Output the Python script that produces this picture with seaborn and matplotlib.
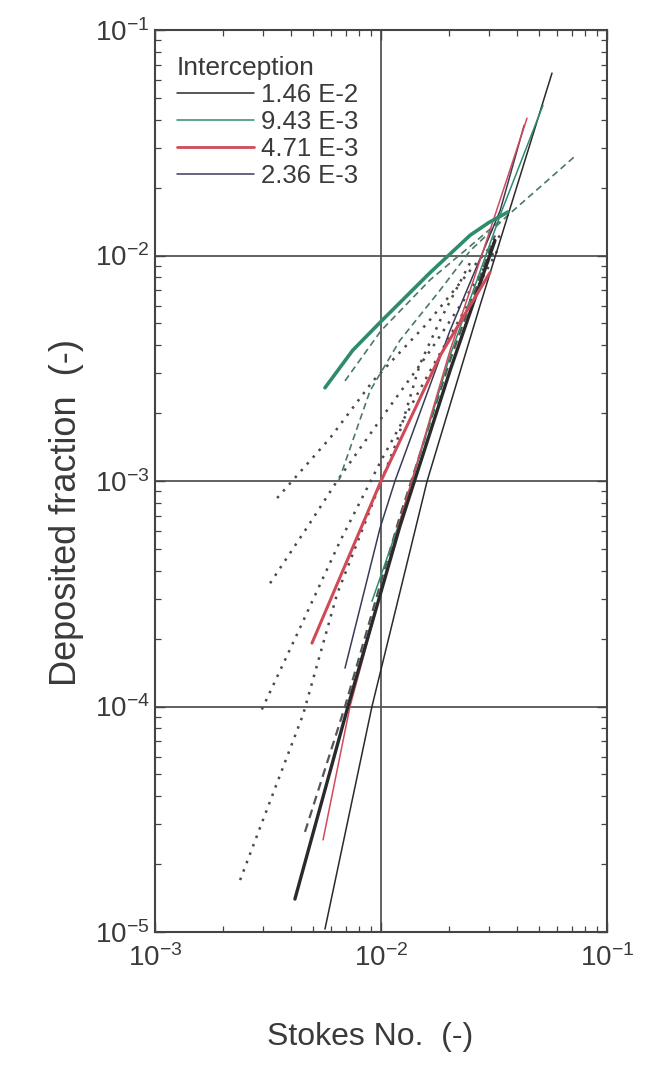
import numpy as np
import pandas as pd
import matplotlib
matplotlib.use("Agg")
import matplotlib.pyplot as plt
from matplotlib.lines import Line2D
from matplotlib.ticker import LogLocator, NullFormatter
import seaborn as sns

# ---------------- data ----------------
green_thick_x = [5.65e-3, 7.5e-3, 1.0e-2, 1.65e-2, 2.48e-2, 3.0e-2, 3.65e-2]
green_thick_y = [2.59e-3, 3.8e-3, 5.1e-3, 8.4e-3, 1.23e-2, 1.4e-2, 1.56e-2]

green_dash_x = [6.5e-3, 8.94e-3, 1.21e-2, 1.82e-2, 2.48e-2, 3.65e-2, 7.2e-2]
green_dash_y = [1.0e-3, 2.51e-3, 4.19e-3, 6.99e-3, 1.05e-2, 1.51e-2, 2.75e-2]

green_dash2_x = [6.93e-3, 1.0e-2, 1.65e-2, 2.48e-2, 3.37e-2]
green_dash2_y = [2.78e-3, 4.64e-3, 7.8e-3, 1.1e-2, 1.43e-2]

green_thin_x = [9.12e-3, 1.21e-2, 2.02e-2, 3.4e-2, 5.21e-2]
green_thin_y = [2.93e-4, 6.6e-4, 3.6e-3, 1.55e-2, 4.64e-2]

dot1_x = [3.47e-3, 5.95e-3, 9.22e-3, 1.60e-2, 2.48e-2, 3.37e-2]
dot1_y = [8.4e-4, 1.55e-3, 2.78e-3, 5.0e-3, 8.58e-3, 1.23e-2]

dot2_x = [3.23e-3, 4.85e-3, 6.39e-3, 1.0e-2, 1.65e-2, 2.48e-2, 3.19e-2]
dot2_y = [3.52e-4, 6.51e-4, 1.0e-3, 1.89e-3, 3.78e-3, 6.99e-3, 1.05e-2]

dot3_x = [2.97e-3, 4.25e-3, 6.59e-3, 1.0e-2, 1.65e-2, 2.48e-2, 3.37e-2]
dot3_y = [9.7e-5, 2.09e-4, 5.41e-4, 1.23e-3, 3.08e-3, 6.31e-3, 1.11e-2]

dot4_x = [2.38e-3, 4.52e-3, 6.39e-3, 8.32e-3, 1.178e-2, 1.489e-2, 1.824e-2, 2.48e-2]
dot4_y = [1.70e-5, 9.2e-5, 3.15e-4, 6.18e-4, 1.51e-3, 3.31e-3, 5.14e-3, 9.3e-3]

red_thick_x = [4.95e-3, 1.0e-2, 1.824e-2, 3.034e-2]
red_thick_y = [1.91e-4, 1.0e-3, 3.59e-3, 8.4e-3]

red_thin_x = [5.54e-3, 7.29e-3, 1.213e-2, 2.019e-2, 3.034e-2, 4.426e-2]
red_thin_y = [2.56e-5, 1.0e-4, 6.64e-4, 3.78e-3, 1.29e-2, 4.06e-2]

black_thick_x = [4.16e-3, 7.14e-3, 1.213e-2, 2.019e-2, 3.193e-2]
black_thick_y = [1.40e-5, 1.0e-4, 6.31e-4, 3.08e-3, 1.166e-2]

black_dash_x = [4.61e-3, 6.93e-3, 1.213e-2, 2.019e-2, 3.193e-2]
black_dash_y = [2.78e-5, 1.0e-4, 6.99e-4, 3.42e-3, 1.227e-2]

navy_thin_x = [6.93e-3, 9.9e-3, 1.153e-2, 2.019e-2, 3.365e-2, 4.3e-2]
navy_thin_y = [1.48e-4, 6.18e-4, 1.0e-3, 4.64e-3, 1.58e-2, 3.78e-2]

black_thin_x = [5.65e-3, 9.12e-3, 1.60e-2, 2.742e-2, 5.71e-2]
black_thin_y = [1.03e-5, 1.0e-4, 1.0e-3, 6.0e-3, 6.44e-2]

legend_labels = ["1.46 E-2", "9.43 E-3", "4.71 E-3", "2.36 E-3"]
legend_title = "Interception"

# ---------------- style ----------------
sns.set_theme(style="ticks")
plt.rcParams["font.family"] = ["Liberation Sans", "DejaVu Sans"]
plt.rcParams["mathtext.fontset"] = "custom"
plt.rcParams["mathtext.rm"] = "Liberation Sans"
plt.rcParams["mathtext.it"] = "Liberation Sans"
plt.rcParams["mathtext.default"] = "regular"

TXT = "#3a3a3a"
BLACK = "#2a2a2a"
GREEN = "#2e8c6c"
RED = "#d04a58"
NAVY = "#3a3a58"
DOT = "#4a4a4a"

fig = plt.figure(figsize=(6.45, 10.65), dpi=100)
ax = fig.add_axes([155 / 645, 1 - 932 / 1065, (607 - 155) / 645, (932 - 30) / 1065])
ax.set_xscale("log")
ax.set_yscale("log")


def draw(x, y, color, lw, ls):
    df = pd.DataFrame({"x": x, "y": y})
    sns.lineplot(data=df, x="x", y="y", ax=ax, color=color, lw=lw, linestyle=ls,
                 estimator=None, sort=False, legend=False)


dotted = (0, (1, 2.6))
dashed = (0, (4, 2.5))

draw(dot1_x, dot1_y, DOT, 1.8, dotted)
draw(dot2_x, dot2_y, DOT, 1.8, dotted)
draw(dot3_x, dot3_y, DOT, 1.8, dotted)
draw(dot4_x, dot4_y, DOT, 1.8, dotted)
draw(green_dash_x, green_dash_y, "#4a7a66", 1.2, dashed)
draw(green_dash2_x, green_dash2_y, "#4a7a66", 1.2, dashed)
draw(black_dash_x, black_dash_y, "#555555", 1.6, dashed)
draw(black_thin_x, black_thin_y, BLACK, 1.1, "-")
draw(navy_thin_x, navy_thin_y, NAVY, 1.1, "-")
draw(green_thin_x, green_thin_y, GREEN, 1.1, "-")
draw(red_thin_x, red_thin_y, RED, 1.1, "-")
draw(black_thick_x, black_thick_y, BLACK, 2.4, "-")
draw(red_thick_x, red_thick_y, RED, 2.2, "-")
draw(green_thick_x, green_thick_y, GREEN, 2.6, "-")

ax.set_xlim(1e-3, 1e-1)
ax.set_ylim(1e-5, 1e-1)

ax.grid(True, which="major", color="#555555", lw=1.3)
ax.grid(False, which="minor")

ax.xaxis.set_major_locator(LogLocator(base=10, numticks=10))
ax.yaxis.set_major_locator(LogLocator(base=10, numticks=10))
ax.xaxis.set_minor_locator(LogLocator(base=10, subs=np.arange(2, 10), numticks=20))
ax.yaxis.set_minor_locator(LogLocator(base=10, subs=np.arange(2, 10), numticks=20))
ax.xaxis.set_minor_formatter(NullFormatter())
ax.yaxis.set_minor_formatter(NullFormatter())

ax.tick_params(which="both", direction="in", top=True, right=True, colors="#444444",
               labelcolor=TXT)
ax.tick_params(which="major", length=7, width=1.0, labelsize=20)
ax.tick_params(which="minor", length=4, width=0.9)
ax.tick_params(axis="y", which="major", pad=4)
ax.tick_params(axis="x", which="major", pad=9)

for s in ax.spines.values():
    s.set_color("#444444")
    s.set_linewidth(1.5)

ax.set_xlabel("Stokes No.  (-)", fontsize=23, color=TXT)
ax.xaxis.set_label_coords(0.476, -0.1)
ax.set_ylabel("Deposited fraction  (-)", fontsize=26, color=TXT)
ax.yaxis.set_label_coords(-0.158, 0.465)

handles = [Line2D([], [], color=BLACK, lw=1.1),
           Line2D([], [], color=GREEN, lw=1.1),
           Line2D([], [], color=RED, lw=2.0),
           Line2D([], [], color=NAVY, lw=1.1)]
leg = ax.legend(handles, legend_labels, title=legend_title, loc="upper left",
                frameon=False, fontsize=18.5, title_fontsize=19, handlelength=3.0,
                handletextpad=0.28, labelspacing=0.12, borderaxespad=0.6,
                alignment="left", bbox_to_anchor=(-0.008, 1.0))
for t in leg.get_texts():
    t.set_color(TXT)
leg.get_title().set_color(TXT)

fig.savefig("out.png", dpi=100, facecolor="white")
